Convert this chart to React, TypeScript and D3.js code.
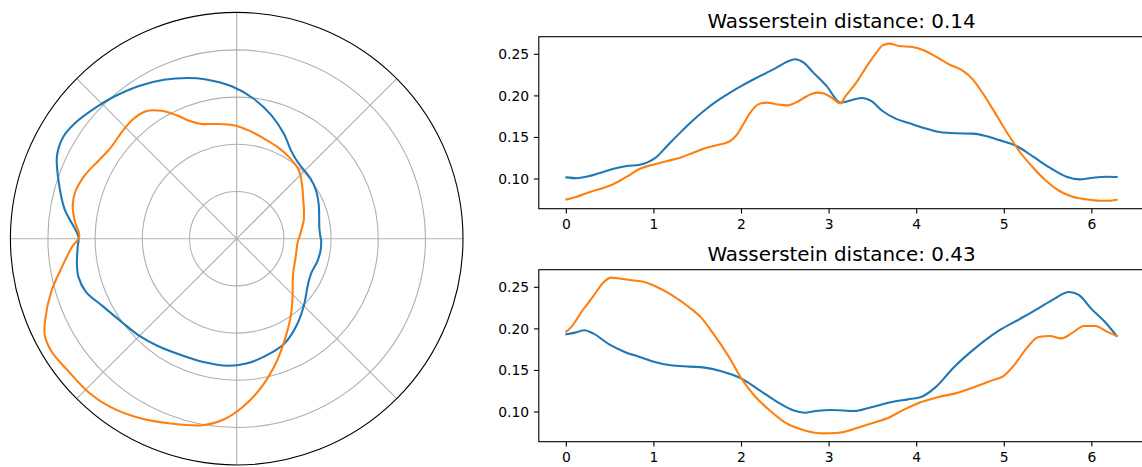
import React from "react";
import * as d3 from "d3";

// ---- data ----
const topBlueTheta = [0, 0.12, 0.24, 0.39, 0.54, 0.69, 0.84, 0.92, 1.02, 1.15, 1.30, 1.45, 1.60, 1.76, 1.87, 2.0, 2.14, 2.29, 2.40, 2.52, 2.61, 2.71, 2.82, 2.97, 3.13, 3.19, 3.29, 3.38, 3.48, 3.61, 3.76, 3.92, 4.07, 4.26, 4.45, 4.64, 4.79, 4.94, 5.14, 5.33, 5.52, 5.71, 5.86, 6.01, 6.16, 6.283];
const topBlueValue = [0.102, 0.101, 0.103, 0.1076, 0.1124, 0.1156, 0.1172, 0.1197, 0.1257, 0.1397, 0.1558, 0.171, 0.1846, 0.1967, 0.204, 0.212, 0.220, 0.228, 0.234, 0.241, 0.244, 0.240, 0.228, 0.212, 0.192, 0.193, 0.196, 0.1975, 0.1939, 0.1818, 0.1726, 0.167, 0.1618, 0.1566, 0.155, 0.1546, 0.1517, 0.1469, 0.1397, 0.1269, 0.1136, 0.1028, 0.0996, 0.1016, 0.1028, 0.1024];

const topOrangeTheta = [0, 0.12, 0.27, 0.43, 0.54, 0.69, 0.84, 1.0, 1.15, 1.30, 1.45, 1.60, 1.76, 1.87, 1.95, 2.02, 2.10, 2.19, 2.29, 2.40, 2.52, 2.63, 2.75, 2.86, 2.94, 3.03, 3.13, 3.19, 3.31, 3.42, 3.54, 3.61, 3.69, 3.80, 3.95, 4.07, 4.22, 4.37, 4.53, 4.64, 4.75, 4.87, 5.02, 5.17, 5.33, 5.48, 5.63, 5.78, 5.94, 6.09, 6.20, 6.283];
const topOrangeValue = [0.0755, 0.0787, 0.0844, 0.0896, 0.094, 0.1028, 0.1124, 0.1176, 0.1217, 0.1257, 0.1317, 0.1377, 0.1417, 0.1457, 0.1537, 0.1658, 0.1798, 0.1898, 0.1919, 0.190, 0.1886, 0.1926, 0.1999, 0.2039, 0.203, 0.1979, 0.191, 0.1999, 0.2159, 0.234, 0.252, 0.2608, 0.2629, 0.26, 0.2588, 0.2552, 0.2472, 0.238, 0.230, 0.2199, 0.2039, 0.1838, 0.1578, 0.1337, 0.1136, 0.0976, 0.0856, 0.0787, 0.0755, 0.0739, 0.0739, 0.0751];

const bottomBlueTheta = [0, 0.10, 0.21, 0.31, 0.49, 0.66, 0.84, 1.01, 1.19, 1.41, 1.58, 1.76, 2.0, 2.19, 2.41, 2.59, 2.72, 2.85, 3.03, 3.29, 3.46, 3.73, 3.90, 4.05, 4.21, 4.42, 4.69, 4.95, 5.17, 5.39, 5.56, 5.74, 5.85, 6.0, 6.15, 6.283];
const bottomBlueValue = [0.1935, 0.1955, 0.1983, 0.1943, 0.1814, 0.1726, 0.1662, 0.1602, 0.1562, 0.1546, 0.1534, 0.1493, 0.1401, 0.1273, 0.112, 0.102, 0.0992, 0.1012, 0.1024, 0.1012, 0.1052, 0.1124, 0.1152, 0.118, 0.1293, 0.1533, 0.1786, 0.1987, 0.2115, 0.2247, 0.2356, 0.2444, 0.2408, 0.2235, 0.2083, 0.1915];

const bottomOrangeTheta = [0, 0.05, 0.18, 0.31, 0.42, 0.51, 0.62, 0.75, 0.88, 1.01, 1.19, 1.41, 1.54, 1.67, 1.85, 2.0, 2.15, 2.33, 2.50, 2.72, 2.94, 3.11, 3.33, 3.51, 3.68, 3.86, 4.03, 4.25, 4.47, 4.69, 4.86, 4.99, 5.12, 5.26, 5.39, 5.52, 5.65, 5.78, 5.91, 6.04, 6.17, 6.283];
const bottomOrangeValue = [0.1967, 0.2015, 0.2215, 0.2396, 0.2556, 0.2617, 0.2604, 0.2584, 0.2568, 0.2516, 0.2416, 0.2255, 0.2135, 0.1955, 0.1674, 0.1401, 0.1193, 0.1012, 0.0872, 0.0779, 0.0743, 0.0751, 0.0811, 0.0872, 0.0932, 0.1032, 0.1112, 0.118, 0.1233, 0.1313, 0.1381, 0.1433, 0.1574, 0.1774, 0.1903, 0.1915, 0.1886, 0.1955, 0.2035, 0.2035, 0.1967, 0.1915];

const titles = ["Wasserstein distance: 0.14", "Wasserstein distance: 0.43"];
const xTicks = [0, 1, 2, 3, 4, 5, 6];
const yTicks = [0.10, 0.15, 0.20, 0.25];
const polarRings = [0.05725, 0.1145, 0.17175, 0.229];
const polarSpokes = [0, 45, 90, 135, 180, 225, 270, 315];

const BLUE = "#1f77b4";
const ORANGE = "#ff7f0e";
const FONT = "DejaVu Sans, sans-serif";

const zip = (t: number[], v: number[]) => t.map((x, i) => [x, v[i]] as [number, number]);

function LinePanel({ top, title, blue, orange }: { top: number; title: string; blue: [number, number][]; orange: [number, number][] }) {
  const x = d3.scaleLinear().domain([-0.3142, 6.5973]).range([538.8, 1144.2]);
  const y = d3.scaleLinear().domain([0.0643, 0.2712]).range([top + 172, top]);
  const line = d3
    .line<[number, number]>()
    .x((d) => x(d[0]))
    .y((d) => y(d[1]))
    .curve(d3.curveMonotoneX);
  const bottom = top + 172;
  const left = 538.8;
  return (
    <g>
      <text x={841.5} y={top - 8.3} textAnchor="middle" fontFamily={FONT} fontSize={19.9} fill="#000">
        {title}
      </text>
      <path d={line(blue) || ""} fill="none" stroke={BLUE} strokeWidth={2.08} strokeLinejoin="round" strokeLinecap="square" />
      <path d={line(orange) || ""} fill="none" stroke={ORANGE} strokeWidth={2.08} strokeLinejoin="round" strokeLinecap="square" />
      <rect x={left} y={top} width={1144.2 - left} height={172} fill="none" stroke="#000" strokeWidth={1.1} />
      {xTicks.map((t) => (
        <g key={"x" + t}>
          <line x1={x(t)} x2={x(t)} y1={bottom} y2={bottom + 4.86} stroke="#000" strokeWidth={1.1} />
          <text x={x(t)} y={bottom + 20.5} textAnchor="middle" fontFamily={FONT} fontSize={13.9} fill="#000">
            {t}
          </text>
        </g>
      ))}
      {yTicks.map((t) => (
        <g key={"y" + t}>
          <line x1={left - 4.86} x2={left} y1={y(t)} y2={y(t)} stroke="#000" strokeWidth={1.1} />
          <text x={left - 9.7} y={y(t)} dy="0.36em" textAnchor="end" fontFamily={FONT} fontSize={13.9} fill="#000">
            {t.toFixed(2)}
          </text>
        </g>
      ))}
    </g>
  );
}

function PolarPanel() {
  const cx = 236.7;
  const cy = 238.7;
  const R = 226.3;
  const r = d3.scaleLinear().domain([0, 0.2745]).range([0, R]);
  const radial = d3
    .lineRadial<[number, number]>()
    .angle((d) => Math.PI / 2 - d[0])
    .radius((d) => r(d[1]))
    .curve(d3.curveCatmullRom.alpha(0.5));
  return (
    <g transform={`translate(${cx},${cy})`}>
      {polarRings.map((v) => (
        <circle key={v} r={r(v)} fill="none" stroke="#b0b0b0" strokeWidth={1.1} />
      ))}
      {polarSpokes.map((a) => {
        const th = (a * Math.PI) / 180;
        return <line key={a} x1={0} y1={0} x2={R * Math.cos(th)} y2={-R * Math.sin(th)} stroke="#b0b0b0" strokeWidth={1.1} />;
      })}
      <path d={radial(zip(topBlueTheta, topBlueValue)) || ""} fill="none" stroke={BLUE} strokeWidth={2.08} strokeLinejoin="round" />
      <path d={radial(zip(topOrangeTheta, topOrangeValue)) || ""} fill="none" stroke={ORANGE} strokeWidth={2.08} strokeLinejoin="round" />
      <circle r={R} fill="none" stroke="#000" strokeWidth={1.1} />
    </g>
  );
}

export default function App() {
  return (
    <svg width={1142} height={467} style={{ position: "absolute", left: 0, top: 0, background: "#fff" }}>
      <rect width={1142} height={467} fill="#fff" />
      <PolarPanel />
      <LinePanel top={36.7} title={titles[0]} blue={zip(topBlueTheta, topBlueValue)} orange={zip(topOrangeTheta, topOrangeValue)} />
      <LinePanel top={269.7} title={titles[1]} blue={zip(bottomBlueTheta, bottomBlueValue)} orange={zip(bottomOrangeTheta, bottomOrangeValue)} />
    </svg>
  );
}
